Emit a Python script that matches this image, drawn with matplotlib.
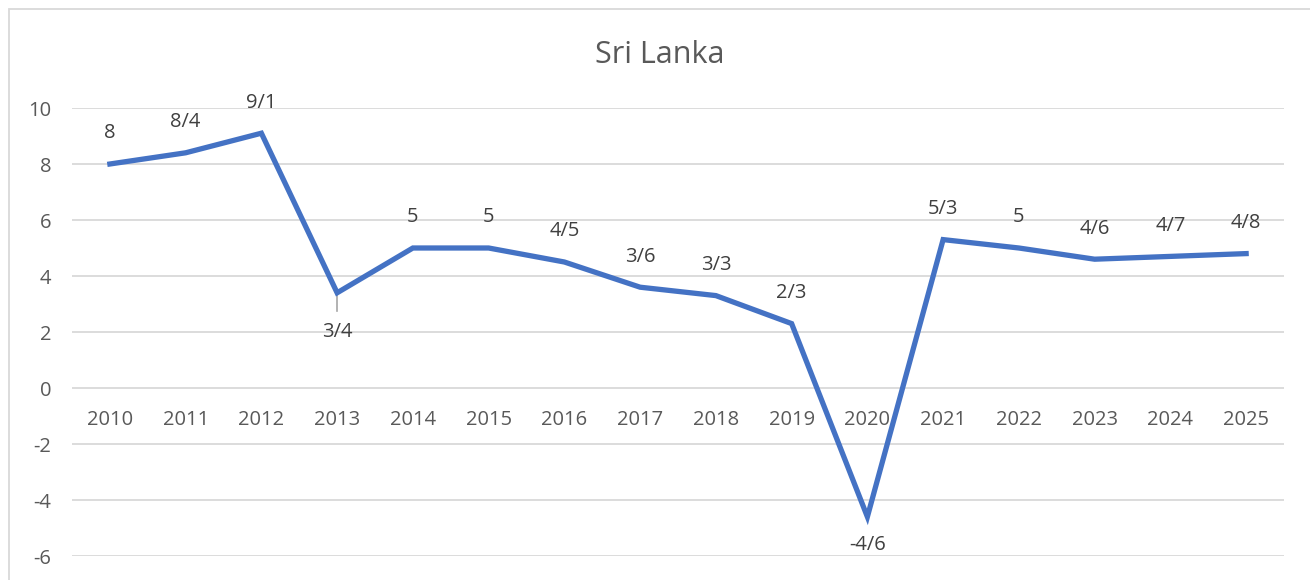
import matplotlib
matplotlib.use("Agg")
import matplotlib.pyplot as plt
from matplotlib.patches import Rectangle

years = ["2010", "2011", "2012", "2013", "2014", "2015", "2016", "2017",
         "2018", "2019", "2020", "2021", "2022", "2023", "2024", "2025"]
growth = [8, 8.4, 9.1, 3.4, 5, 5, 4.5, 3.6, 3.3, 2.3, -4.6, 5.3, 5, 4.6, 4.7, 4.8]
labels = ["8", "8/4", "9/1", "3/4", "5", "5", "4/5", "3/6", "3/3", "2/3",
          "-4/6", "5/3", "5", "4/6", "4/7", "4/8"]
below = {"2013", "2020"}
yticks = [-6, -4, -2, 0, 2, 4, 6, 8, 10]

plt.rcParams['font.family'] = ['Open Sans', 'DejaVu Sans']
txt = "#595959"
fs = 14.5

fig = plt.figure(figsize=(13.1, 5.8), dpi=100)
ax = fig.add_axes([72/1310, 24/580, (1284-72)/1310, (556-108)/580])

x = list(range(len(years)))
ax.plot(x, growth, color="#4472C4", linewidth=3.8, solid_joinstyle="miter", zorder=3)

for xi, yi, lab, yr in zip(x, growth, labels, years):
    if yr in below:
        if yr == "2013":
            ax.plot([xi, xi], [yi - 0.08, yi - 0.65], color="#A6A6A6", lw=1.2, zorder=2)
            ax.annotate(lab, xy=(xi, yi), xytext=(0, -28), textcoords="offset points",
                        ha="center", va="center", fontsize=fs, color="#404040")
        else:
            ax.annotate(lab, xy=(xi, yi), xytext=(0, -20), textcoords="offset points",
                        ha="center", va="center", fontsize=fs, color="#404040")
    else:
        ax.annotate(lab, xy=(xi, yi), xytext=(0, 22), textcoords="offset points",
                    ha="center", va="center", fontsize=fs, color="#404040")

ax.set_xlim(-0.5, len(years) - 0.5)
ax.set_ylim(-6, 10)
ax.set_yticks(yticks)
ax.set_yticklabels([str(v) for v in yticks])
ax.grid(axis="y", color="#D9D9D9", linewidth=1.3)
ax.set_axisbelow(True)
for s in ax.spines.values():
    s.set_visible(False)
ax.spines['bottom'].set_position(('data', 0))
ax.set_xticks(x)
ax.set_xticklabels(years)
ax.tick_params(axis="both", length=0, labelsize=fs, labelcolor=txt)
ax.tick_params(axis="x", pad=16)
ax.tick_params(axis="y", pad=15)

fig.text(660/1310, 1 - 55/580, "Sri Lanka", ha="center", va="center",
         fontsize=22, color=txt)

fig.patches.append(Rectangle((9/1310, -0.1), 1.2, 1 - 9/580 + 0.1,
                             transform=fig.transFigure, fill=False,
                             edgecolor="#D9D9D9", linewidth=1.3))

fig.savefig("out.png", dpi=100)
